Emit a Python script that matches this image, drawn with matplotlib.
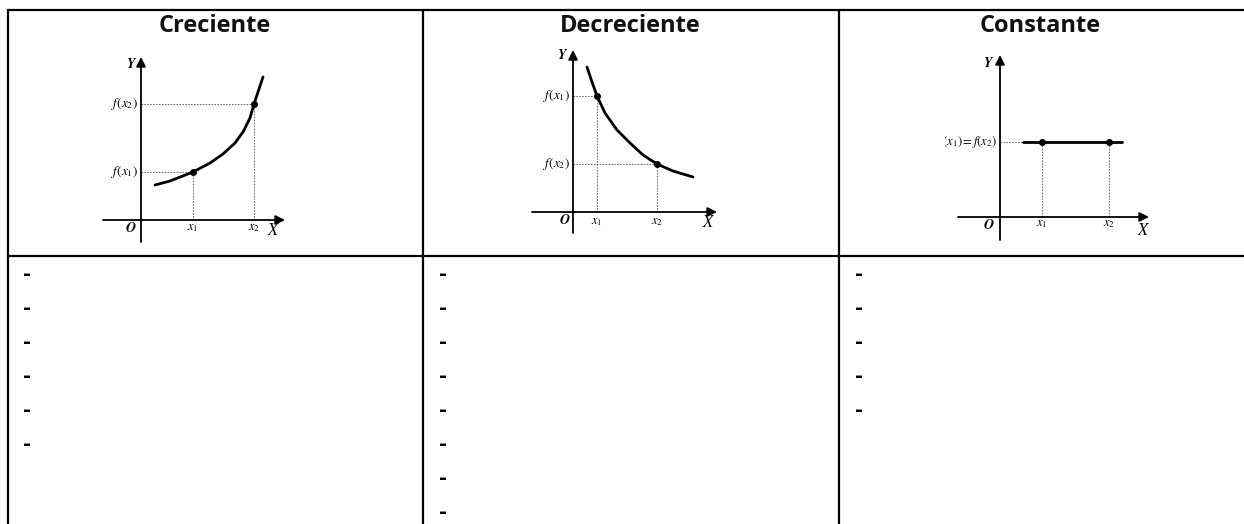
import matplotlib
matplotlib.use('Agg')
import matplotlib.pyplot as plt

W, H = 1244, 524

# table content
titles = ['Creciente', 'Decreciente', 'Constante']
bullet_counts = [6, 8, 5]

# graph 1 - creciente (units relative to origin)
crec_x = [14, 29, 52, 69, 82, 94, 102, 109, 113, 117, 122]
crec_y = [35, 39, 48, 57, 66, 77, 88, 102, 116, 128, 143]
crec_pts_x = [52, 113]
crec_pts_y = [48, 116]
crec_ticks = ['$x_1$', '$x_2$']
crec_flabels = ['$f(x_1)$', '$f(x_2)$']

# graph 2 - decreciente
decr_x = [14, 19, 24, 32, 44, 57, 70, 84, 100, 120]
decr_y = [145, 130, 116, 99, 82, 69, 57, 48, 41, 35]
decr_pts_x = [24, 84]
decr_pts_y = [116, 48]
decr_ticks = ['$x_1$', '$x_2$']
decr_flabels = ['$f(x_1)$', '$f(x_2)$']

# graph 3 - constante
const_x = [23, 122]
const_y = [75, 75]
const_pts_x = [42, 109]
const_pts_y = [75, 75]
const_ticks = ['$x_1$', '$x_2$']
const_flabel = '$f(x_1) = f(x_2)$'

plt.rcParams['mathtext.fontset'] = 'stix'


def add_graph(fig, box, origin):
    # box = (left, top, right, bottom) in figure pixels
    l, t, r, b = box
    ox, oy = origin
    ax = fig.add_axes([l / W, 1 - b / H, (r - l) / W, (b - t) / H])
    ax.set_xlim(l - ox, r - ox)
    ax.set_ylim(oy - b, oy - t)
    ax.axis('off')
    return ax


def draw_axes(ax, xr, yr):
    ax.annotate('', xy=(xr[1], 0), xytext=(xr[0], 0),
                arrowprops=dict(arrowstyle='-|>', color='black', lw=1.3,
                                mutation_scale=14, shrinkA=0, shrinkB=0))
    ax.annotate('', xy=(0, yr[1]), xytext=(0, yr[0]),
                arrowprops=dict(arrowstyle='-|>', color='black', lw=1.3,
                                mutation_scale=14, shrinkA=0, shrinkB=0))


def guides(ax, px, py, horiz=True):
    for x, y in zip(px, py):
        ax.plot([x, x], [0, y], ls=(0, (2, 1.5)), color='#555555', lw=0.6)
        if horiz:
            ax.plot([0, x], [y, y], ls=(0, (2, 1.5)), color='#555555', lw=0.6)


def axis_text(ax, ylab, olab, xlab, fs=10):
    kw = dict(family='STIXGeneral', style='italic', weight='bold',
              ha='center', va='center')
    ax.text(*ylab, 'Y', fontsize=fs, **kw)
    ax.text(*olab, 'O', fontsize=fs, **kw)
    ax.text(*xlab, 'X', fontsize=fs + 2, family='STIXGeneral',
            style='italic', ha='center', va='center')


fig = plt.figure(figsize=(W / 100, H / 100), dpi=100)
base = fig.add_axes([0, 0, 1, 1])
base.set_xlim(0, W)
base.set_ylim(H, 0)
base.axis('off')

# table grid
col_x = [8, 423, 839]
lw = 1.6
for x in col_x:
    base.plot([x, x], [10, H], color='black', lw=lw, solid_capstyle='butt')
base.plot([8, W], [10, 10], color='black', lw=lw)
base.plot([8, W], [256, 256], color='black', lw=lw)

title_cx = [215, 630, 1040]
for cx, t in zip(title_cx, titles):
    base.text(cx, 26, t, ha='center', va='center', fontsize=17,
              fontweight='bold', family='Open Sans', color='#111111')

bullet_x = [27, 443, 859]
for bx, n in zip(bullet_x, bullet_counts):
    for i in range(n):
        base.text(bx, 274 + i * 34.0, '-', ha='center', va='center',
                  fontsize=14, fontweight='bold')

curve_kw = dict(color='black', lw=2, solid_joinstyle='round',
                solid_capstyle='round')

# graph 1
ax1 = add_graph(fig, (95, 45, 295, 245), (141, 220))
guides(ax1, crec_pts_x, crec_pts_y)
draw_axes(ax1, (-38, 144), (-22, 163))
ax1.plot(crec_x, crec_y, **curve_kw)
ax1.plot(crec_pts_x, crec_pts_y, 'o', color='black', ms=4)
for x, lab in zip(crec_pts_x, crec_ticks):
    ax1.text(x, -8, lab, fontsize=9, ha='center', va='center')
for y, lab in zip(crec_pts_y, crec_flabels):
    ax1.text(-3, y, lab, fontsize=9.5, ha='right', va='center')
axis_text(ax1, (-11, 156), (-10, -8), (132, -11))

# graph 2
ax2 = add_graph(fig, (520, 45, 725, 240), (573, 212))
guides(ax2, decr_pts_x, decr_pts_y)
draw_axes(ax2, (-41, 144), (-21, 162))
ax2.plot(decr_x, decr_y, **curve_kw)
ax2.plot(decr_pts_x, decr_pts_y, 'o', color='black', ms=4)
for x, lab in zip(decr_pts_x, decr_ticks):
    ax2.text(x, -9, lab, fontsize=9, ha='center', va='center')
for y, lab in zip(decr_pts_y, decr_flabels):
    ax2.text(-3, y, lab, fontsize=9.5, ha='right', va='center')
axis_text(ax2, (-12, 157), (-8, -8), (135, -11))

# graph 3
ax3 = add_graph(fig, (945, 45, 1155, 245), (1000, 217))
guides(ax3, const_pts_x, const_pts_y, horiz=False)
ax3.plot([0, const_x[0]], [const_y[0], const_y[0]], ls=(0, (2, 1.5)),
         color='#555555', lw=0.6)
draw_axes(ax3, (-42, 149), (-23, 162))
ax3.plot(const_x, const_y, **curve_kw)
ax3.plot(const_pts_x, const_pts_y, 'o', color='black', ms=4)
for x, lab in zip(const_pts_x, const_ticks):
    ax3.text(x, -7, lab, fontsize=9, ha='center', va='center')
ax3.text(-3, const_y[0], const_flabel, fontsize=9, ha='right', va='center',
         clip_on=True)
axis_text(ax3, (-13, 154), (-11, -8), (143, -14))

fig.savefig('out.png', dpi=100)
